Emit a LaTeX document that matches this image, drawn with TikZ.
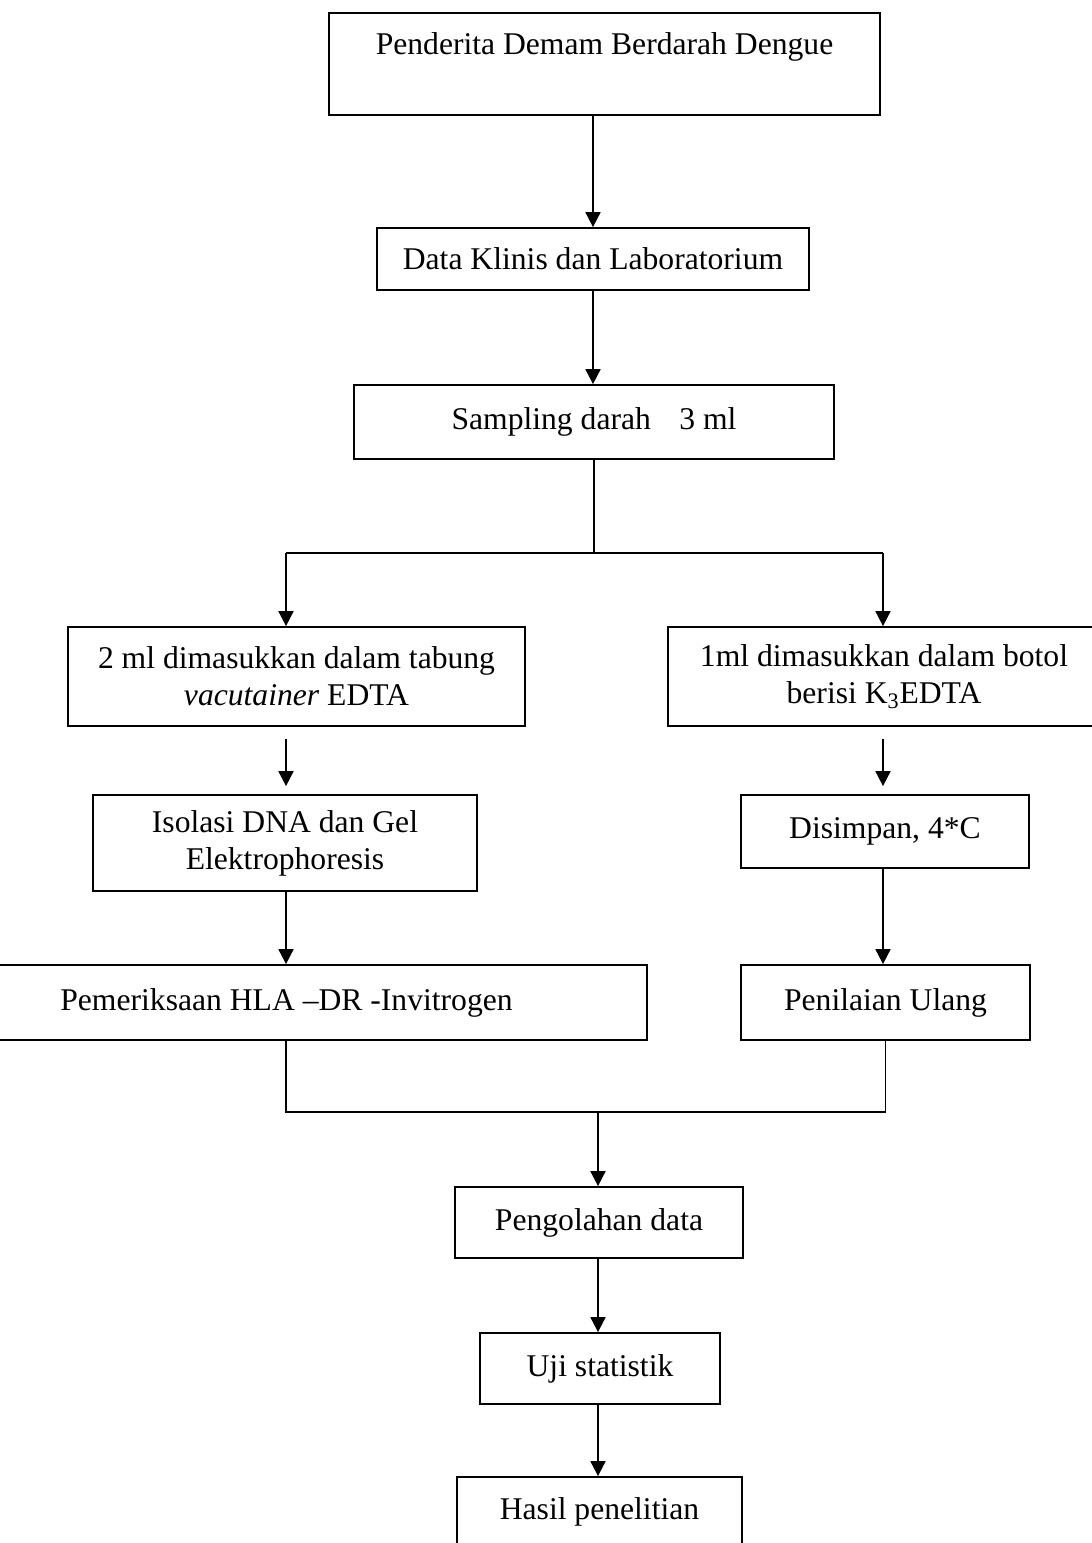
\documentclass[tikz,border=0pt]{standalone}
\usepackage{fontspec}
\setmainfont{Liberation Serif}
\usetikzlibrary{arrows.meta}
\newcommand*{\upx}{0.02cm}

\begin{document}
\begin{tikzpicture}[x=\upx, y=-\upx, font=\fontsize{18}{21}\selectfont,
    kotak/.style={draw, line width=1pt, align=center, inner sep=0pt},
    panah/.style={-{Triangle[length=3mm,width=3mm]}, line width=1pt},
    garis/.style={line width=1pt}]
    \useasboundingbox (0,0) rectangle (1092,1543);
    \clip (0,0) rectangle (1092,1543);
        \node [kotak, anchor=north, minimum width=551*\upx, text height=42*\upx, text depth=60*\upx] (penderita) at (604.5,12) {Penderita Demam Berdarah Dengue};
        \node [kotak, minimum width=432*\upx, minimum height=62*\upx] (klinis)   at (593,259)     {Data Klinis dan Laboratorium};
        \node [kotak, minimum width=480*\upx, minimum height=74*\upx] (sampling) at (594,422)     {Sampling darah\hspace{0.9em}3 ml};
        \node [kotak, minimum width=457*\upx, minimum height=99*\upx] (tabung)   at (296.5,676.5) {2 ml dimasukkan dalam tabung\\\textit{vacutainer} EDTA};
        \node [kotak, minimum width=432*\upx, minimum height=99*\upx] (botol)    at (884,676.5)   {1ml dimasukkan dalam botol\\berisi K\textsubscript{3}EDTA};
        \node [kotak, minimum width=384*\upx, minimum height=96*\upx] (isolasi)  at (285,843)     {Isolasi DNA dan Gel\\Elektrophoresis};
        \node [kotak, minimum width=288*\upx, minimum height=73*\upx] (simpan)   at (885,831.5)   {Disimpan, 4*C};
        \node [kotak, minimum width=721*\upx, minimum height=75*\upx] (periksa)  at (286.5,1002.5) {Pemeriksaan HLA –DR -Invitrogen};
        \node [kotak, minimum width=289*\upx, minimum height=75*\upx] (ulang)    at (885.5,1002.5) {Penilaian Ulang};
        \node [kotak, minimum width=288*\upx, minimum height=71*\upx] (olah)     at (599,1222.5)  {Pengolahan data};
        \node [kotak, minimum width=240*\upx, minimum height=71*\upx] (uji)      at (600,1368.5)  {Uji statistik};
        \node [kotak, minimum width=285*\upx, minimum height=70*\upx] (hasil)    at (599.5,1512)  {Hasil penelitian};
        \coordinate (kiri)   at (286,553);
        \coordinate (kanan)  at (883,553);
        \coordinate (gabung) at (598,1112);
        \draw [panah] (penderita.south -| klinis.north) -- (klinis.north);
        \draw [panah] (klinis.south) -- (klinis.south |- sampling.north);
        \draw [garis] (sampling.south) -- (sampling.south |- kiri);
        \draw [garis] (kiri) -- (kanan);
        \draw [panah] (kiri) -- (kiri |- tabung.north);
        \draw [panah] (kanan) -- (kanan |- botol.north);
        \draw [panah, shorten <=2.4mm, shorten >=1.6mm] (kiri |- tabung.south) -- (kiri |- isolasi.north);
        \draw [panah, shorten <=2.4mm, shorten >=1.6mm] (kanan |- botol.south) -- (kanan |- simpan.north);
        \draw [panah] (kiri |- isolasi.south) -- (kiri |- periksa.north);
        \draw [panah] (kanan |- simpan.south) -- (kanan |- ulang.north);
        \draw [garis] (kiri |- periksa.south) -- (kiri |- gabung) -- (gabung -| ulang.south) -- (ulang.south);
        \draw [panah] (gabung) -- (gabung |- olah.north);
        \draw [panah] (olah.south -| gabung) -- (gabung |- uji.north);
        \draw [panah] (uji.south -| gabung) -- (gabung |- hasil.north);
    \end{tikzpicture}
\end{document}
